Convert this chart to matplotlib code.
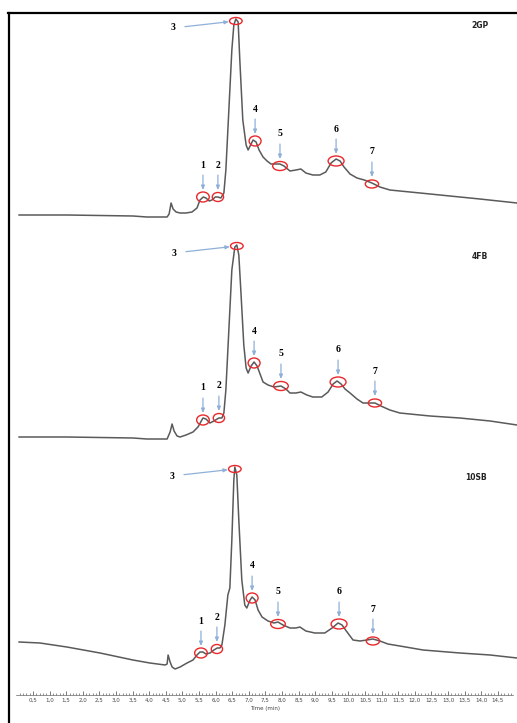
import matplotlib
matplotlib.use("Agg")
import matplotlib.pyplot as plt
from matplotlib.patches import Ellipse
from matplotlib.lines import Line2D
import numpy as np

# chromatogram traces: time (min), signal (arbitrary units)
t_2gp = [0.08, 1.52, 3.51, 3.93, 4.54, 4.60, 4.66, 4.72, 4.81, 4.93, 5.11, 5.29, 5.44, 5.53,
         5.63, 5.71, 5.81, 5.89, 5.99, 6.07, 6.16, 6.25, 6.31, 6.40, 6.49, 6.55, 6.61, 6.68,
         6.73, 6.82, 6.92, 6.98, 7.04, 7.13, 7.22, 7.31, 7.43, 7.55, 7.67, 7.82, 7.94, 8.06,
         8.24, 8.42, 8.57, 8.72, 8.93, 9.14, 9.32, 9.48, 9.63, 9.75, 9.87, 10.05, 10.26,
         10.48, 10.71, 10.95, 11.25, 12.16, 13.06, 13.96, 15.08]
s_2gp = [10, 10, 9, 8, 8, 11, 22, 16, 13, 12, 12, 13, 17, 25,
         28, 27, 24, 25, 28, 28, 27, 32, 55, 115, 175, 200, 206, 203,
         165, 105, 80, 75, 79, 85, 83, 75, 68, 64, 61, 61, 61, 59,
         54, 55, 56, 52, 50, 50, 53, 62, 66, 64, 58, 51, 47,
         45, 42, 38, 35, 32, 29, 26, 22]

t_4fb = [0.08, 1.52, 3.51, 3.93, 4.54, 4.63, 4.69, 4.75, 4.84, 4.93, 5.11, 5.32, 5.47, 5.62,
         5.71, 5.83, 5.95, 6.10, 6.19, 6.25, 6.31, 6.40, 6.49, 6.58, 6.64, 6.70, 6.76, 6.85,
         6.92, 6.98, 7.07, 7.16, 7.25, 7.34, 7.43, 7.58, 7.76, 7.97, 8.12, 8.24, 8.42, 8.57,
         8.75, 8.93, 9.20, 9.39, 9.54, 9.66, 9.78, 9.90, 10.05, 10.26, 10.44, 10.62, 10.80,
         10.98, 11.25, 11.55, 12.46, 13.36, 14.27, 15.08]
s_4fb = [8, 8, 7, 6, 6, 13, 21, 14, 9, 8, 10, 13, 18, 27,
         26, 22, 24, 27, 27, 32, 55, 115, 175, 198, 200, 190, 155, 100,
         77, 72, 79, 83, 79, 71, 63, 60, 58, 59, 56, 52, 52, 53,
         50, 48, 48, 53, 61, 64, 61, 56, 52, 46, 42, 42, 42,
         39, 35, 32, 29, 27, 24, 20]

t_10sb = [0.08, 0.71, 1.52, 2.52, 3.51, 4.02, 4.48, 4.54, 4.57, 4.63, 4.69, 4.78, 4.93, 5.14,
          5.32, 5.44, 5.53, 5.62, 5.71, 5.83, 5.95, 6.05, 6.13, 6.19, 6.28, 6.37, 6.43, 6.49,
          6.55, 6.58, 6.64, 6.70, 6.79, 6.88, 6.94, 7.04, 7.10, 7.19, 7.28, 7.40, 7.58, 7.76,
          7.88, 8.03, 8.24, 8.42, 8.54, 8.72, 8.99, 9.29, 9.51, 9.69, 9.81, 9.96, 10.14,
          10.35, 10.56, 10.74, 10.95, 11.19, 11.55, 12.25, 13.36, 14.27, 15.08]
s_10sb = [33, 32, 28, 22, 15, 12, 10, 11, 20, 13, 8, 6, 8, 12,
          15, 20, 23, 23, 21, 22, 25, 27, 27, 30, 50, 80, 87, 135,
          195, 208, 200, 155, 95, 70, 67, 75, 78, 75, 65, 58, 54, 52,
          53, 50, 47, 47, 48, 44, 42, 42, 47, 52, 50, 43, 35,
          34, 35, 36, 34, 31, 29, 25, 22, 20, 17]

# marked peaks 1..7 for each sample
peak_names = ["1", "2", "3", "4", "5", "6", "7"]
pk_t_2gp = [5.62, 6.07, 6.61, 7.19, 7.94, 9.63, 10.71]
pk_s_2gp = [28, 28, 204, 84, 59, 64, 41]
pk_t_4fb = [5.62, 6.10, 6.64, 7.16, 7.97, 9.69, 10.80]
pk_s_4fb = [25, 27, 199, 82, 59, 63, 42]
pk_t_10sb = [5.56, 6.04, 6.58, 7.10, 7.88, 9.72, 10.74]
pk_s_10sb = [22, 26, 206, 77, 51, 51, 34]

samples = ["2GP", "4FB", "10SB"]
tick_vals = np.arange(0.5, 15.0, 0.5)

W, H = 517, 723
fig = plt.figure(figsize=(W / 100, H / 100), dpi=100)

line_col = "#5a5a5a"
arrow_col = "#8fb0d8"
circ_w = [0.38, 0.34, 0.38, 0.36, 0.44, 0.48, 0.40]
circ_h = [10, 9, 7, 10, 9, 10, 8]

traces = [(t_2gp, s_2gp, pk_t_2gp, pk_s_2gp),
          (t_4fb, s_4fb, pk_t_4fb, pk_s_4fb),
          (t_10sb, s_10sb, pk_t_10sb, pk_s_10sb)]
bottoms_px = [225, 445, 675]
name_pos = [(0.926, 0.909), (0.926, 0.855), (0.918, 0.90)]

x0 = 16.4 / W
xw = (W - 16.4) / W
for k, (tt, ss, pt, ps) in enumerate(traces):
    ax = fig.add_axes([x0, (H - bottoms_px[k]) / H, xw, 220 / H])
    ax.set_xlim(0, 15.08)
    ax.set_ylim(0, 220)
    ax.axis("off")
    ax.plot(tt, ss, color=line_col, lw=1.1)
    for i, nm in enumerate(peak_names):
        ax.add_patch(Ellipse((pt[i], ps[i]), circ_w[i], circ_h[i], fill=False,
                             edgecolor="#e8282b", lw=1.0, zorder=5))
        if nm == "3":
            ax.annotate(nm, xy=(pt[i], ps[i]), xytext=(-63, -7), textcoords="offset pixels",
                        ha="center", va="center", fontsize=7, fontweight="bold",
                        family="Liberation Serif",
                        arrowprops=dict(arrowstyle="-|>,head_length=0.35,head_width=0.15",
                                        color=arrow_col, lw=0.9, shrinkA=5, shrinkB=5))
        else:
            ax.annotate(nm, xy=(pt[i], ps[i]), xytext=(0, 32), textcoords="offset pixels",
                        ha="center", va="center", fontsize=7, fontweight="bold",
                        family="Liberation Serif",
                        arrowprops=dict(arrowstyle="-|>,head_length=0.35,head_width=0.15",
                                        color=arrow_col, lw=0.9, shrinkA=2, shrinkB=5))
    ax.text(name_pos[k][0], name_pos[k][1], samples[k], transform=ax.transAxes,
            ha="center", va="center", fontsize=5.5, fontweight="bold", color="#222222")

# time axis at the bottom
axb = fig.add_axes([x0, (H - 695) / H, 14.95 * 33.2 / W, 0.002])
axb.set_xlim(0, 14.95)
axb.set_yticks([])
for sp in ["top", "left", "right"]:
    axb.spines[sp].set_visible(False)
axb.spines["bottom"].set_linewidth(0.5)
axb.spines["bottom"].set_color("#666666")
axb.set_xticks(tick_vals)
axb.set_xticklabels([f"{v:.1f}".replace(".", ",") for v in tick_vals])
axb.set_xticks(np.arange(0.1, 14.95, 0.1), minor=True)
axb.tick_params(axis="x", which="major", direction="in", length=3, width=0.5,
                labelsize=4, pad=2, colors="#444444")
axb.tick_params(axis="x", which="minor", direction="in", length=1.8, width=0.5, colors="#666666")
axb.set_xlabel("Time (min)", fontsize=4, labelpad=2, color="#444444")

# outer frame lines (top and left)
fig.add_artist(Line2D([8 / W, 1], [1 - 13 / H, 1 - 13 / H], transform=fig.transFigure,
                      color="black", lw=1.6))
fig.add_artist(Line2D([9 / W, 9 / W], [0, 1 - 13 / H], transform=fig.transFigure,
                      color="black", lw=1.6))

fig.savefig("out.png", dpi=100)
